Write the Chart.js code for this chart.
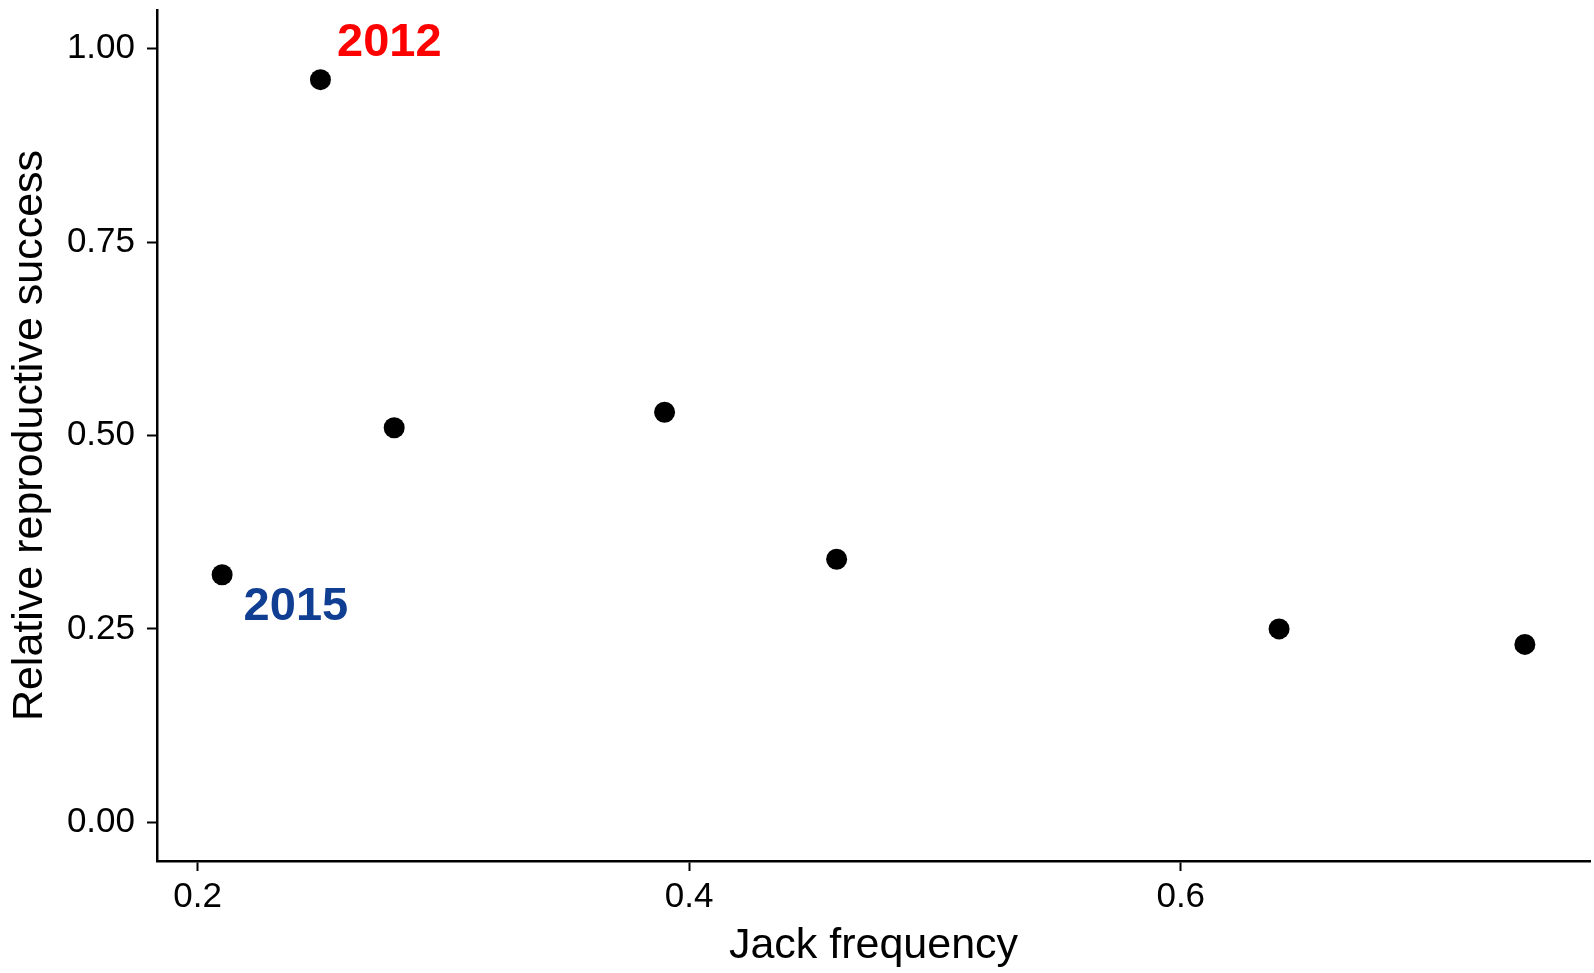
<!DOCTYPE html>
<html>
<head>
<meta charset="utf-8">
<script src="https://cdn.jsdelivr.net/npm/chart.js@4"></script>
<style>
  html, body { margin: 0; padding: 0; background: #fff; }
</style>
</head>
<body>
<canvas id="myChart" width="1594" height="973"></canvas>
<script>
// data
const jackFreq = [0.21, 0.25, 0.28, 0.39, 0.46, 0.64, 0.74]
const relSuccess = [0.32, 0.96, 0.51, 0.53, 0.34, 0.25, 0.23]

const xTicks = [0.2, 0.4, 0.6]
const yTicks = [0, 0.25, 0.5, 0.75, 1]

// year annotations (data coordinates)
const yearLabels = ['2012', '2015']
const yearLabelX = [0.278, 0.24]
const yearLabelY = [1.007, 0.278]
const yearColors = ['#ff0000', '#103e92']

const FONT = '"Liberation Sans", Arial, Helvetica, sans-serif'

const yearLabelPlugin = {
  id: 'yearLabels',
  afterDatasetsDraw(chart) {
    const { ctx, scales: { x, y } } = chart
    ctx.save()
    ctx.font = 'bold 47px ' + FONT
    ctx.textAlign = 'center'
    ctx.textBaseline = 'middle'
    yearLabels.forEach((t, i) => {
      ctx.fillStyle = yearColors[i]
      ctx.fillText(t, x.getPixelForValue(yearLabelX[i]), y.getPixelForValue(yearLabelY[i]))
    })
    ctx.restore()
  }
}

const points = jackFreq.map((v, i) => ({ x: v, y: relSuccess[i] }))

const ctx = document.getElementById('myChart')

const myChart = new Chart(ctx, {
  type: 'scatter',
  data: {
    datasets: [{
      data: points,
      backgroundColor: '#000',
      borderWidth: 0,
      pointRadius: 10.5,
      pointHoverRadius: 10.5
    }]
  },
  options: {
    responsive: false,
    animation: false,
    devicePixelRatio: 1,
    layout: { autoPadding: false, padding: { top: 10, right: 4, left: 0, bottom: 0 } },
    plugins: {
      legend: { display: false },
      tooltip: { enabled: false }
    },
    scales: {
      x: {
        type: 'linear',
        min: 0.1835,
        max: 0.7665,
        afterBuildTicks: s => { s.ticks = xTicks.map(v => ({ value: v })) },
        afterFit: s => {
          s.height = 112
          s.paddingLeft = 0
          s.paddingRight = 0
        },
        border: { display: true, color: '#000', width: 2.5 },
        grid: { drawOnChartArea: false, color: '#000', tickLength: 10, tickWidth: 2 },
        ticks: {
          color: '#000',
          font: { family: FONT, size: 35 },
          padding: 5,
          maxRotation: 0,
          callback: v => Number(v).toFixed(1)
        },
        title: {
          display: true,
          text: 'Jack frequency',
          color: '#000',
          font: { family: FONT, size: 43 },
          padding: { top: 0, bottom: 1 }
        }
      },
      y: {
        type: 'linear',
        min: -0.05,
        max: 1.05,
        afterBuildTicks: s => { s.ticks = yTicks.map(v => ({ value: v })) },
        afterFit: s => {
          s.width = 157
          s.paddingTop = 0
          s.paddingBottom = 0
        },
        border: { display: true, color: '#000', width: 2.5 },
        grid: { drawOnChartArea: false, color: '#000', tickLength: 10, tickWidth: 2 },
        ticks: {
          color: '#000',
          font: { family: FONT, size: 35 },
          padding: 12,
          callback: v => Number(v).toFixed(2)
        },
        title: {
          display: true,
          text: 'Relative reproductive success',
          color: '#000',
          font: { family: FONT, size: 43 },
          padding: { top: 4, bottom: 0 }
        }
      }
    }
  },
  plugins: [yearLabelPlugin]
})
</script>
</body>
</html>
